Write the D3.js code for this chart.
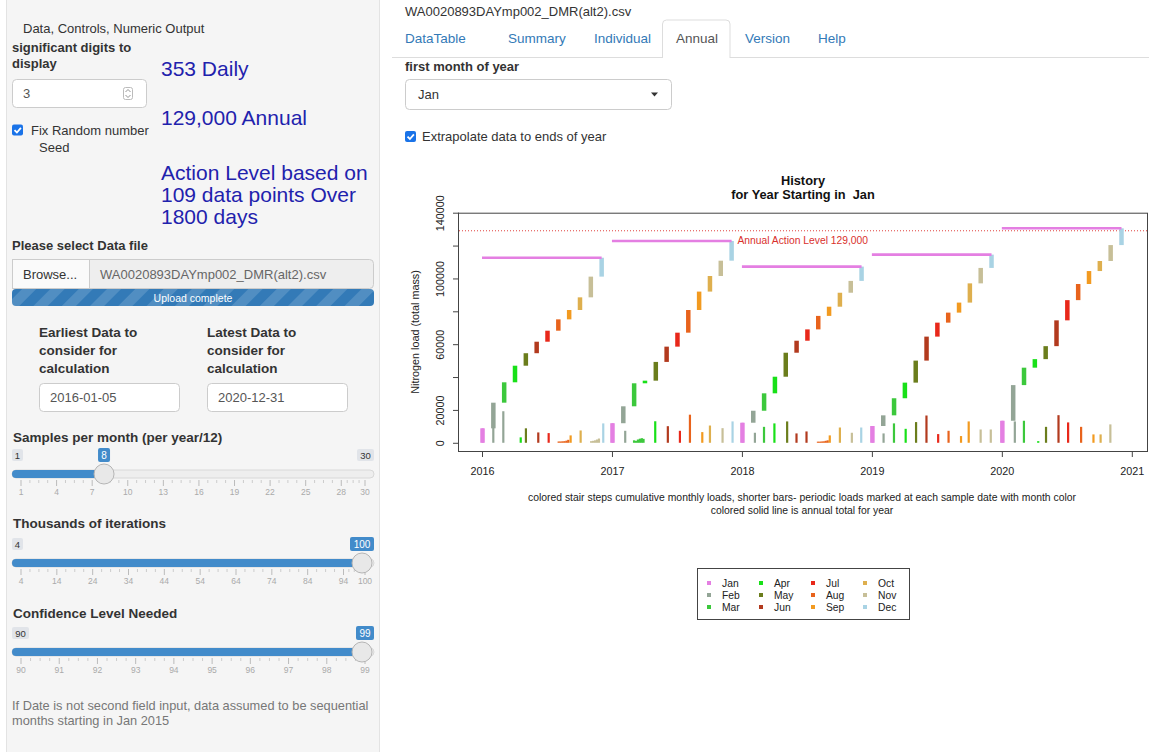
<!DOCTYPE html>
<html>
<head>
<meta charset="utf-8">
<script src="https://cdn.jsdelivr.net/npm/d3@7"></script>
<style>
body { margin: 0; background: #fff; }
svg text { font-family: "Liberation Sans", Arial, Helvetica, sans-serif; }
</style>
</head>
<body>
<svg id="page" width="1149" height="752"></svg>
<script>
// ---- chart data ----
const years = [2016, 2017, 2018, 2019, 2020];
const months = ["Jan", "Feb", "Mar", "Apr", "May", "Jun", "Jul", "Aug", "Sep", "Oct", "Nov", "Dec"];
const monthColors = ["#e47fe2", "#93a596", "#3cc83c", "#18e018", "#6b7d1c", "#b23a1e",
                     "#e8281a", "#e8631c", "#f29a20", "#deaf4e", "#c7bf98", "#a9d3e4"];
// cumulative monthly loads, one list per year
const cum2016 = [8800, 24400, 36800, 46900, 54500, 61500, 68200, 75100, 80800, 88500, 101100, 112600];
const cum2017 = [11900, 22200, 36200, 37800, 49200, 58500, 67000, 80800, 92000, 101500, 110800, 122800];
const cum2018 = [12200, 19500, 30100, 40200, 54800, 62100, 69000, 77200, 82800, 91300, 98500, 107200];
const cum2019 = [10200, 16700, 27100, 36600, 50000, 64600, 73100, 79200, 85300, 97000, 106400, 114500];
const cum2020 = [13400, 35100, 45700, 50900, 58800, 74500, 86800, 96600, 104500, 110600, 120300, 130500];
const cumulative = [cum2016, cum2017, cum2018, cum2019, cum2020];
// periodic loads at each sample date (decimal year)
const sampleDates = [
  2016.005, 2016.087, 2016.164, 2016.298, 2016.338, 2016.433, 2016.513,
  2016.590, 2016.605, 2016.620, 2016.635, 2016.650, 2016.664, 2016.682, 2016.759,
  2016.840, 2016.855, 2016.870, 2016.885, 2016.900, 2016.933,
  2017.005, 2017.102, 2017.170, 2017.185, 2017.200, 2017.215, 2017.230, 2017.243,
  2017.333, 2017.430, 2017.523, 2017.600, 2017.695, 2017.754, 2017.851, 2017.928,
  2018.005, 2018.100, 2018.170, 2018.250, 2018.348, 2018.420, 2018.497,
  2018.585, 2018.600, 2018.615, 2018.630, 2018.645, 2018.660, 2018.676,
  2018.754, 2018.846, 2018.918,
  2019.005, 2019.090, 2019.170, 2019.260, 2019.340, 2019.420, 2019.510, 2019.590,
  2019.686, 2019.745, 2019.837, 2019.915,
  2020.005, 2020.100, 2020.170, 2020.280, 2020.340, 2020.436, 2020.510, 2020.610,
  2020.705, 2020.760, 2020.835
];
const sampleLoads = [
  8800, 9000, 19200, 3300, 8800, 6300, 5900,
  800, 800, 900, 1000, 1300, 1800, 4500, 7500,
  1000, 1200, 1500, 2000, 2600, 11800,
  11900, 7300, 1500, 1200, 2000, 2500, 2800, 2400,
  13100, 10100, 7300, 17100, 6500, 10500, 8900, 13000,
  12200, 6100, 9700, 11800, 13000, 5700, 6900,
  700, 700, 800, 900, 1200, 1500, 4500,
  9300, 6100, 9300,
  10200, 5700, 11800, 8500, 12600, 16600, 5300, 7300,
  4100, 13000, 8100, 8100,
  13400, 13000, 13400, 1000, 9700, 16800, 12400, 9700,
  5100, 5100, 11200
];
const xTicks = [2016, 2017, 2018, 2019, 2020, 2021];
const yTicks = [0, 20000, 40000, 60000, 80000, 100000, 120000, 140000];
const yTickLabels = [0, 20000, 60000, 100000, 140000];
const actionLevel = 129000;

// ---- slider data ----
const slider1Ticks = [1, 4, 7, 10, 13, 16, 19, 22, 25, 28, 30];
const slider2Ticks = [4, 14, 24, 34, 44, 54, 64, 74, 84, 94, 100];
const slider3Ticks = [90, 91, 92, 93, 94, 95, 96, 97, 98, 99];
const tabNames = ["DataTable", "Summary", "Individual", "Annual", "Version", "Help"];
const tabX = [405, 508, 594, 676, 745, 818];

const svg = d3.select("#page");

function txt(g, x, y, s, o) {
  o = o || {};
  return g.append("text")
    .attr("x", x).attr("y", y)
    .attr("dominant-baseline", "central")
    .attr("text-anchor", o.anchor || "start")
    .style("font-size", (o.size || 13) + "px")
    .style("font-weight", o.bold ? "bold" : "normal")
    .style("fill", o.color || "#333")
    .text(s);
}

// stripes for upload bar
const defs = svg.append("defs");
const pat = defs.append("pattern").attr("id", "stripes")
  .attr("width", 20).attr("height", 20)
  .attr("patternUnits", "userSpaceOnUse")
  .attr("patternTransform", "rotate(45)");
pat.append("rect").attr("width", 20).attr("height", 20).attr("fill", "#337ab7");
pat.append("rect").attr("width", 10).attr("height", 20).attr("fill", "rgba(255,255,255,0.15)");

// ================= sidebar =================
const side = svg.append("g");
side.append("rect").attr("x", 6.5).attr("y", -6).attr("width", 373).attr("height", 800)
  .attr("rx", 4).attr("fill", "#f5f5f5").attr("stroke", "#e3e3e3");

txt(side, 23, 28, "Data, Controls, Numeric Output");
txt(side, 12, 47, "significant digits to", {bold: true});
txt(side, 12, 63, "display", {bold: true});
side.append("rect").attr("x", 12.5).attr("y", 79.5).attr("width", 134).attr("height", 28)
  .attr("rx", 4).attr("fill", "#fff").attr("stroke", "#ccc");
txt(side, 23, 93.5, "3", {color: "#555"});
side.append("rect").attr("x", 123.5).attr("y", 87.5).attr("width", 9).attr("height", 12)
  .attr("rx", 2).attr("fill", "#fff").attr("stroke", "#bbb");
side.append("path").attr("d", "M125.5,92 l2.5,-2.5 l2.5,2.5 M125.5,95 l2.5,2.5 l2.5,-2.5")
  .attr("fill", "none").attr("stroke", "#888").attr("stroke-width", 0.9);

function checkbox(g, x, y) {
  g.append("rect").attr("x", x).attr("y", y).attr("width", 11).attr("height", 11)
    .attr("rx", 2).attr("fill", "#1a73e8");
  g.append("path").attr("d", `M${x + 2.5},${y + 5.6} l2.4,2.4 l4,-4.6`)
    .attr("fill", "none").attr("stroke", "#fff").attr("stroke-width", 1.8);
}
checkbox(side, 12, 124.5);
txt(side, 31, 130, "Fix Random number");
txt(side, 39, 147, "Seed");

const blue = "#1f22ad";
txt(side, 161, 68, "353 Daily", {size: 21, color: blue});
txt(side, 161, 117, "129,000 Annual", {size: 21, color: blue});
txt(side, 161, 172, "Action Level based on", {size: 21, color: blue});
txt(side, 161, 194, "109 data points Over", {size: 21, color: blue});
txt(side, 161, 216, "1800 days", {size: 21, color: blue});

txt(side, 12, 245, "Please select Data file", {bold: true});
side.append("rect").attr("x", 12.5).attr("y", 259.5).attr("width", 361).attr("height", 29)
  .attr("rx", 4).attr("fill", "#eee").attr("stroke", "#ccc");
side.append("rect").attr("x", 12.5).attr("y", 259.5).attr("width", 77).attr("height", 29)
  .attr("fill", "#fafafa").attr("stroke", "#ccc");
txt(side, 23, 274, "Browse...");
txt(side, 100, 274, "WA0020893DAYmp002_DMR(alt2).csv", {color: "#666"});
side.append("rect").attr("x", 12).attr("y", 289).attr("width", 362).attr("height", 17)
  .attr("rx", 4).attr("fill", "url(#stripes)");
txt(side, 193, 297.5, "Upload complete", {size: 10.5, color: "#fff", anchor: "middle"});

[["Earliest Data to", 39], ["Latest Data to", 207]].forEach(([t, x]) => {
  txt(side, x, 332, t, {bold: true, size: 13.5});
  txt(side, x, 350, "consider for", {bold: true, size: 13.5});
  txt(side, x, 368, "calculation", {bold: true, size: 13.5});
});
[["2016-01-05", 39], ["2020-12-31", 207]].forEach(([t, x]) => {
  side.append("rect").attr("x", x + 0.5).attr("y", 383.5).attr("width", 140).attr("height", 28)
    .attr("rx", 4).attr("fill", "#fff").attr("stroke", "#ccc");
  txt(side, x + 11, 397.5, t, {color: "#555"});
});

function slider(g, cfg) {
  const sx = d3.scaleLinear().domain(cfg.domain).range([21, 365]);
  txt(g, 13, cfg.titleY, cfg.title, {bold: true, size: 13.5});
  const ly = cfg.trackY - 19;
  // min / max boxes
  const minS = String(cfg.domain[0]);
  const mw = minS.length * 6 + 5;
  g.append("rect").attr("x", 12).attr("y", ly - 6).attr("width", mw).attr("height", 12)
    .attr("rx", 2).attr("fill", "#e1e4e9");
  txt(g, 12 + mw / 2, ly, minS, {size: 9.5, color: "#333", anchor: "middle"});
  if (cfg.value !== cfg.domain[1]) {
    const maxS = String(cfg.domain[1]);
    const xw = maxS.length * 6 + 5;
    g.append("rect").attr("x", 374 - xw).attr("y", ly - 6).attr("width", xw).attr("height", 12)
      .attr("rx", 2).attr("fill", "#e1e4e9");
    txt(g, 374 - xw / 2, ly, maxS, {size: 9.5, color: "#333", anchor: "middle"});
  }
  // track
  g.append("rect").attr("x", 12).attr("y", cfg.trackY - 4).attr("width", 362).attr("height", 8)
    .attr("rx", 4).attr("fill", "#eee").attr("stroke", "#d8d8d8");
  const hx = Math.min(sx(cfg.value), 362);
  g.append("rect").attr("x", 12).attr("y", cfg.trackY - 4).attr("width", hx - 12).attr("height", 8)
    .attr("rx", 4).attr("fill", "#428bca");
  // grid
  const ticks = cfg.ticks;
  for (let i = 0; i < ticks.length; i++) {
    const x = sx(ticks[i]);
    g.append("line").attr("x1", x).attr("x2", x).attr("y1", cfg.trackY + 6).attr("y2", cfg.trackY + 12)
      .attr("stroke", "#bbb");
    txt(g, x, cfg.trackY + 18, String(ticks[i]), {size: 8.5, color: "#aaa", anchor: "middle"});
    if (i < ticks.length - 1) {
      const x2 = sx(ticks[i + 1]);
      for (let k = 1; k < 4; k++) {
        const xm = x + (x2 - x) * k / 4;
        g.append("line").attr("x1", xm).attr("x2", xm).attr("y1", cfg.trackY + 6).attr("y2", cfg.trackY + 9)
          .attr("stroke", "#ccc");
      }
    }
  }
  // value bubble
  const vS = String(cfg.value);
  const vw = vS.length * 6 + 6;
  const vx = Math.min(sx(cfg.value), 374 - vw / 2);
  g.append("rect").attr("x", vx - vw / 2).attr("y", ly - 7).attr("width", vw).attr("height", 14)
    .attr("rx", 2).attr("fill", "#428bca");
  txt(g, vx, ly, vS, {size: 10, color: "#fff", anchor: "middle"});
  // handle
  g.append("circle").attr("cx", hx).attr("cy", cfg.trackY).attr("r", 10)
    .attr("fill", "#e8e8e8").attr("stroke", "#b5b5b5");
}
slider(side, {title: "Samples per month (per year/12)", titleY: 437, trackY: 474,
  domain: [1, 30], value: 8, ticks: slider1Ticks});
slider(side, {title: "Thousands of iterations", titleY: 523, trackY: 563,
  domain: [4, 100], value: 100, ticks: slider2Ticks});
slider(side, {title: "Confidence Level Needed", titleY: 613, trackY: 652,
  domain: [90, 99], value: 99, ticks: slider3Ticks});

txt(side, 12, 705, "If Date is not second field input, data assumed to be sequential", {color: "#777", size: 12.8});
txt(side, 12, 720, "months starting in Jan 2015", {color: "#777", size: 12.8});

// ================= main panel header =================
const main = svg.append("g");
txt(main, 405, 11, "WA0020893DAYmp002_DMR(alt2).csv");
main.append("line").attr("x1", 392).attr("x2", 1149).attr("y1", 57.5).attr("y2", 57.5).attr("stroke", "#ddd");
main.append("path").attr("d", "M662.5,58 V24 a4,4 0 0 1 4,-4 H726 a4,4 0 0 1 4,4 V58")
  .attr("fill", "#fff").attr("stroke", "#ddd");
tabNames.forEach((t, i) => {
  txt(main, tabX[i], 38.5, t, {size: 13.5, color: t === "Annual" ? "#555" : "#337ab7"});
});
txt(main, 405, 66, "first month of year", {bold: true});
main.append("rect").attr("x", 405.5).attr("y", 79.5).attr("width", 266).attr("height", 30)
  .attr("rx", 4).attr("fill", "#fff").attr("stroke", "#ccc");
txt(main, 418, 94.5, "Jan");
main.append("path").attr("d", "M651,92.5 h7 l-3.5,4 z").attr("fill", "#333");
checkbox(main, 405, 131);
txt(main, 422, 136.5, "Extrapolate data to ends of year");

// ================= chart =================
const chart = svg.append("g");
const plot = {left: 458, right: 1148, top: 212.7, bottom: 451};
const x = d3.scaleLinear().domain([2016, 2021]).range([482, 1131.8]);
const y = d3.scaleLinear().domain([-5000, 140000]).range([plot.bottom, plot.top]);

txt(chart, 803, 180, "History", {bold: true, size: 12.8, color: "#111", anchor: "middle"});
txt(chart, 803, 194.5, "for Year Starting in  Jan", {bold: true, size: 12.8, color: "#111", anchor: "middle"})
  .attr("xml:space", "preserve").style("white-space", "pre");

chart.append("rect").attr("x", plot.left + 0.5).attr("y", plot.top + 0.5)
  .attr("width", plot.right - plot.left - 1).attr("height", plot.bottom - plot.top)
  .attr("fill", "none").attr("stroke", "#444");

// axes
const xAxis = chart.append("g").attr("transform", `translate(0,${plot.bottom + 0.5})`)
  .call(d3.axisBottom(x).tickValues(xTicks).tickFormat(d3.format("d")).tickSize(5.5).tickPadding(10));
xAxis.select(".domain").attr("stroke", "#444").attr("d", `M${x(2016)},0H${x(2021)}`);
xAxis.selectAll(".tick line").attr("stroke", "#444");
xAxis.selectAll("text").style("font-size", "10.8px").style("fill", "#222")
  .style("font-family", "'Liberation Sans', Arial, sans-serif");

const yAxis = chart.append("g").attr("transform", `translate(${plot.left + 0.5},0)`)
  .call(d3.axisLeft(y).tickValues(yTicks).tickSize(5.5)
    .tickFormat(d => yTickLabels.includes(d) ? String(d) : ""));
yAxis.select(".domain").attr("stroke", "#444").attr("d", `M0,${y(0)}V${y(140000)}`);
yAxis.selectAll(".tick line").attr("stroke", "#444");
yAxis.selectAll(".tick text")
  .attr("x", 0).attr("dy", 0).attr("dominant-baseline", "central")
  .attr("transform", "translate(-19,0) rotate(-90)")
  .attr("text-anchor", "middle")
  .style("font-size", "10.8px").style("fill", "#222")
  .style("font-family", "'Liberation Sans', Arial, sans-serif");

chart.append("text").attr("transform", "translate(415,332) rotate(-90)")
  .attr("text-anchor", "middle").attr("dominant-baseline", "central")
  .style("font-size", "10.8px").style("fill", "#222")
  .text("Nitrogen load (total mass)");

// action level
chart.append("line").attr("x1", plot.left + 1).attr("x2", plot.right - 1)
  .attr("y1", y(actionLevel)).attr("y2", y(actionLevel))
  .attr("stroke", "#e0413c").attr("stroke-width", 1).attr("stroke-dasharray", "1,2");
txt(chart, 737.5, y(actionLevel) + 9.5, "Annual Action Level 129,000", {size: 10.3, color: "#d9302c"});

// periodic sample bars
chart.append("g").selectAll("line").data(sampleDates).join("line")
  .attr("x1", d => x(d)).attr("x2", d => x(d))
  .attr("y1", y(0)).attr("y2", (d, i) => y(sampleLoads[i]))
  .attr("stroke", d => monthColors[Math.min(11, Math.floor((d - Math.floor(d)) * 12))])
  .attr("stroke-width", 2.2);

// cumulative stair steps
const steps = [];
cumulative.forEach((vals, yi) => {
  vals.forEach((v, m) => {
    steps.push({t: years[yi] + m / 12 + 0.004, lo: m === 0 ? 0 : vals[m - 1], hi: v, m: m});
  });
});
chart.append("g").selectAll("line").data(steps).join("line")
  .attr("x1", d => x(d.t)).attr("x2", d => x(d.t))
  .attr("y1", d => y(d.lo)).attr("y2", d => y(d.hi))
  .attr("stroke", d => monthColors[d.m]).attr("stroke-width", 4.5);

// annual totals
chart.append("g").selectAll("line").data(cumulative).join("line")
  .attr("x1", (d, i) => x(years[i])).attr("x2", (d, i) => x(years[i] + 11 / 12 + 0.004))
  .attr("y1", d => y(d[11])).attr("y2", d => y(d[11]))
  .attr("stroke", "#e47fe2").attr("stroke-width", 2.6);

// caption
txt(chart, 802, 497.5, "colored stair steps cumulative monthly loads, shorter bars- periodic loads marked at each sample date with month color",
  {size: 10.4, color: "#222", anchor: "middle"});
txt(chart, 802, 510, "colored solid line is annual total for year", {size: 10.4, color: "#222", anchor: "middle"});

// legend
const leg = chart.append("g");
leg.append("rect").attr("x", 697.5).attr("y", 568.5).attr("width", 212).attr("height", 51)
  .attr("fill", "#fff").attr("stroke", "#444");
months.forEach((mn, m) => {
  const col = Math.floor(m / 3), row = m % 3;
  const lx = 709 + col * 52, ly = 583 + row * 12;
  leg.append("rect").attr("x", lx - 2).attr("y", ly - 2).attr("width", 4).attr("height", 4)
    .attr("fill", monthColors[m]);
  txt(leg, lx + 13, ly, mn, {size: 10.3, color: "#222"});
});
</script>
</body>
</html>
